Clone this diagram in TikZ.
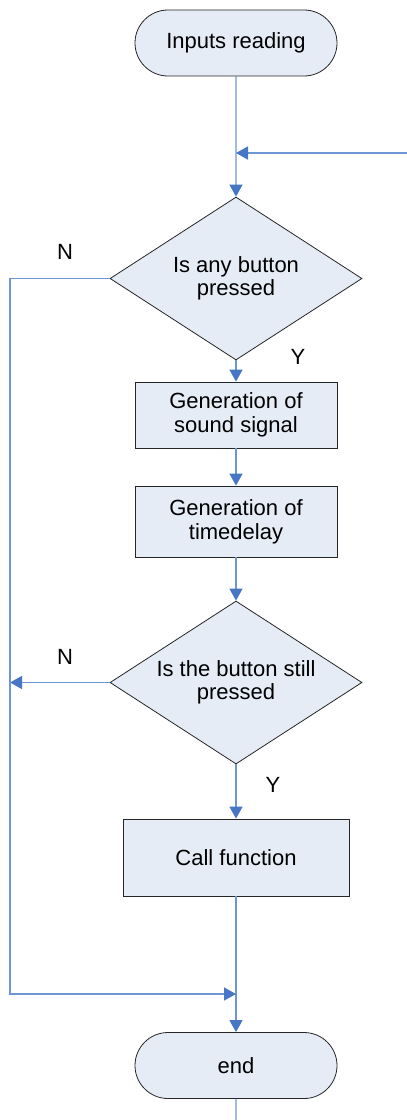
\documentclass[tikz,border=0pt]{standalone}
\usepackage{fontspec}
\setmainfont{Liberation Sans}
\usetikzlibrary{shapes.geometric,shapes.misc,arrows.meta}
\definecolor{boxfill}{RGB}{230,236,246}
\definecolor{linkblue}{RGB}{110,150,212}
\definecolor{tipblue}{RGB}{70,118,196}
\tikzset{
 term/.style={draw=black!85,fill=boxfill,rounded rectangle,minimum width=101pt,minimum height=33pt,inner sep=0pt,font=\fontsize{11}{12}\selectfont},
 proc/.style={draw=black!85,fill=boxfill,rectangle,inner sep=0pt,align=center,font=\fontsize{11}{12}\selectfont},
 decide/.style={draw=black!85,fill=boxfill,diamond,minimum width=126pt,minimum height=81.5pt,aspect=1.55,inner sep=0pt,align=center,font=\fontsize{11}{11.5}\selectfont},
 lbl/.style={font=\fontsize{11}{12}\selectfont,inner sep=0pt},
 link/.style={draw=linkblue,line width=0.7pt},
 flow/.style={link,-{Triangle[width=6.5pt,length=6pt,fill=tipblue,color=tipblue]}}
}
\begin{document}
\begin{tikzpicture}[x=0.5pt,y=-0.5pt]
 \useasboundingbox (0,0) rectangle (407,1120);
 \node[term] (start) at (236,43) {Inputs reading};
 \node[decide] (ask1) at (236,278.5) {Is any button\\pressed};
 \node[proc,minimum width=101pt,minimum height=33pt] (sound) at (236,415) {Generation of\\sound signal};
 \node[proc,minimum width=101pt,minimum height=35.5pt] (delay) at (236,521.5) {Generation of\\timedelay};
 \node[decide] (ask2) at (236,682.5) {Is the button still\\pressed};
 \node[proc,minimum width=113pt,minimum height=38.5pt] (call) at (236,857.5) {Call function};
 \node[term] (stop) at (236,1065.5) {end};
 \coordinate (rin) at (407,153);
 \coordinate (join1) at (236,153);
 \coordinate (lup) at (10,278.5);
 \coordinate (lmid) at (10,682.5);
 \coordinate (ldown) at (10,994);
 \coordinate (join2) at (236,994);
 \coordinate (out) at (236,1120);
 \node[lbl] (n1) at (65,252) {N};
 \node[lbl] (y1) at (298,357) {Y};
 \node[lbl] (n2) at (65,657) {N};
 \node[lbl] (y2) at (273,785) {Y};
 \draw[flow] (start) -- (ask1);
 \draw[flow] (rin) -- (join1);
 \draw[flow] (ask1) -- (sound);
 \draw[flow] (sound) -- (delay);
 \draw[flow] (delay) -- (ask2);
 \draw[flow] (ask2) -- (call);
 \draw[flow] (call) -- (stop);
 \draw[flow] (ask2.west) -- (lmid);
 \draw[flow] (ask1.west) -- (lup) -- (ldown) -- (join2);
 \draw[link] (stop) -- (out);
\end{tikzpicture}
\end{document}
